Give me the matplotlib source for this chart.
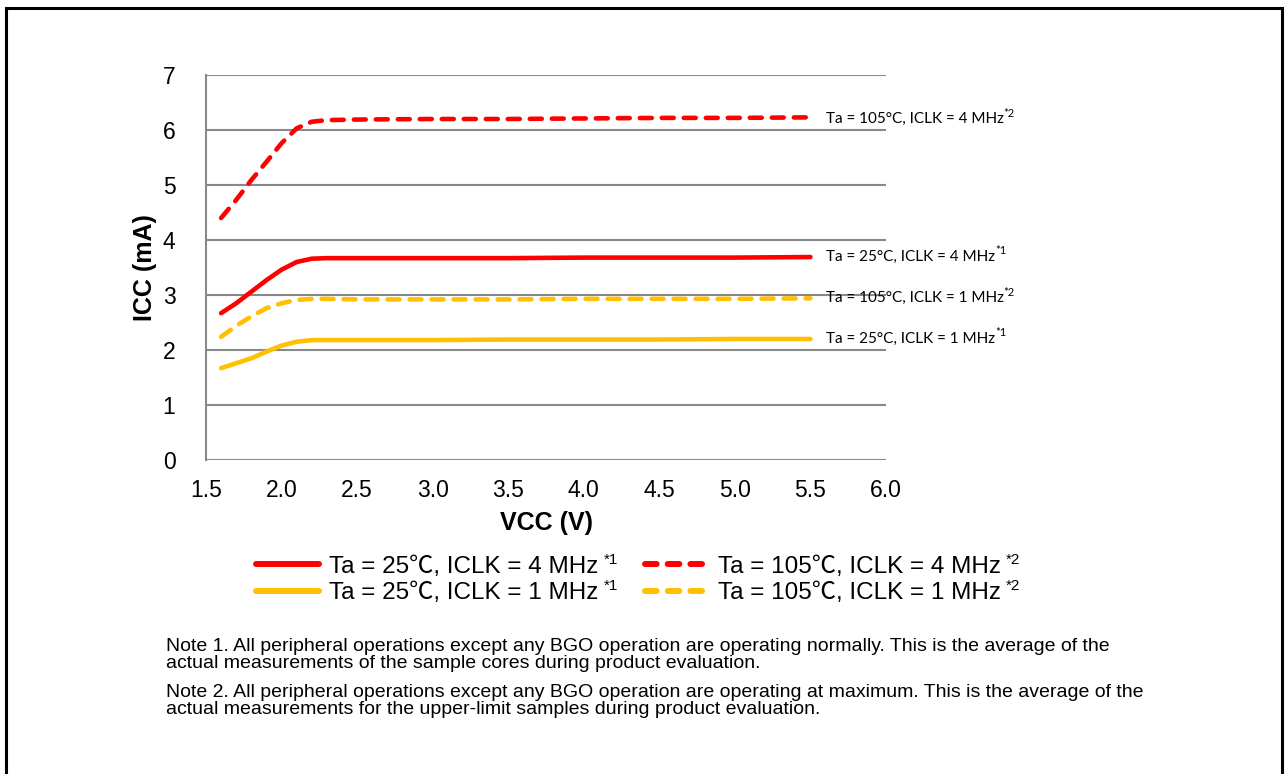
import numpy as np
import matplotlib
matplotlib.use("Agg")
import matplotlib.pyplot as plt
from matplotlib import font_manager
from matplotlib.lines import Line2D
from matplotlib.patches import Rectangle

# supply voltage (V)
vcc = [1.6, 1.7, 1.8, 1.9, 2.0, 2.1, 2.2, 2.3, 2.5, 3.0, 3.5, 4.0, 4.5, 5.0, 5.5]

# ICC (mA)
icc_25_4m = [2.67, 2.85, 3.06, 3.27, 3.46, 3.60, 3.66, 3.67, 3.67, 3.67, 3.67, 3.68, 3.68, 3.68, 3.69]
icc_25_1m = [1.67, 1.76, 1.85, 1.97, 2.08, 2.15, 2.18, 2.18, 2.18, 2.18, 2.19, 2.19, 2.19, 2.2, 2.2]
icc_105_4m = [4.40, 4.73, 5.09, 5.42, 5.76, 6.03, 6.15, 6.18, 6.19, 6.2, 6.2, 6.21, 6.22, 6.22, 6.23]
icc_105_1m = [2.24, 2.44, 2.61, 2.76, 2.85, 2.91, 2.93, 2.93, 2.92, 2.92, 2.92, 2.93, 2.93, 2.93, 2.94]

legend_labels = ["Ta = 25\u2103, ICLK = 4 MHz", "Ta = 25\u2103, ICLK = 1 MHz",
                 "Ta = 105\u2103, ICLK = 4 MHz", "Ta = 105\u2103, ICLK = 1 MHz"]
side_labels = ["Ta = 25\u00b0C, ICLK = 4 MHz", "Ta = 25\u00b0C, ICLK = 1 MHz",
               "Ta = 105\u00b0C, ICLK = 4 MHz", "Ta = 105\u00b0C, ICLK = 1 MHz"]
notes = ["*1", "*1", "*2", "*2"]
xticks = [1.5, 2.0, 2.5, 3.0, 3.5, 4.0, 4.5, 5.0, 5.5, 6.0]
yticks = [0, 1, 2, 3, 4, 5, 6, 7]

note1 = ("Note 1. All peripheral operations except any BGO operation are operating normally. This is the average of the\n"
         "actual measurements of the sample cores during product evaluation.")
note2 = ("Note 2. All peripheral operations except any BGO operation are operating at maximum. This is the average of the\n"
         "actual measurements for the upper-limit samples during product evaluation.")

RED = "#FF0000"
YEL = "#FFC000"
GRID = "#898989"

names = {f.name for f in font_manager.fontManager.ttflist}
side_font = "Lato" if "Lato" in names else "DejaVu Sans"

plt.rcParams["font.family"] = ["Liberation Sans", "DejaVu Sans"]

W, H = 1288, 774
fig = plt.figure(figsize=(W / 100, H / 100), dpi=100)
ax = fig.add_axes([206 / W, 1 - 460 / H, 680 / W, 385 / H])

series = [
    (icc_25_4m, RED, "-"),
    (icc_25_1m, YEL, "-"),
    (icc_105_4m, RED, "--"),
    (icc_105_1m, YEL, "--"),
]
label_dy = [0, 0, -2, 0]  # px nudge of the end labels

lw = 3.3
for i, (vals, col, ls) in enumerate(series):
    line, = ax.plot(vcc, vals, color=col, lw=lw, solid_capstyle="round",
                    dash_capstyle="round", solid_joinstyle="round", zorder=3)
    if ls == "--":
        line.set_dashes([2.6, 2.2])
    t = ax.annotate(side_labels[i], xy=(vcc[-1], vals[-1]), xytext=(11, label_dy[i] * 0.72),
                    textcoords="offset points", fontsize=11, family=[side_font, "DejaVu Sans"],
                    va="center", ha="left", annotation_clip=False)
    ax.annotate(notes[i], xy=(1.0, 0.95), xycoords=t, fontsize=8,
                family=[side_font, "DejaVu Sans"], va="center", ha="left")

ax.set_xlim(1.5, 6.0)
ax.set_ylim(0, 7)
ax.set_xticks(xticks)
ax.set_xticklabels([f"{t:.1f}" for t in xticks])
ax.set_yticks(yticks)
ax.tick_params(length=0, labelsize=16.5, colors="black")
ax.tick_params(axis="x", pad=14)
ax.tick_params(axis="y", pad=22)
ax.grid(axis="y", color=GRID, lw=1.5, zorder=1)
for s in ["top", "right", "bottom"]:
    ax.spines[s].set_visible(False)
ax.spines["left"].set_color(GRID)
ax.spines["left"].set_linewidth(1.5)
ax.set_axisbelow(True)

ax.set_xlabel("VCC (V)", fontsize=18, fontweight="bold")
ax.xaxis.set_label_coords(0.5, -0.163)
ax.xaxis.label.set_va("center")
ax.set_ylabel("ICC (mA)", fontsize=18, fontweight="bold")
ax.yaxis.set_label_coords(-0.09, 0.5)
ax.yaxis.label.set_va("center")

# legend
handles = []
for vals, col, ls in series:
    h = Line2D([], [], color=col, lw=4.3, solid_capstyle="round", dash_capstyle="round")
    if ls == "--":
        h.set_dashes([1.95, 1.85])
    handles.append(h)
leg = fig.legend(handles, legend_labels, ncol=2, loc="center left",
                 bbox_to_anchor=(244 / W, 1 - 580 / H), frameon=False,
                 prop={"family": ["Liberation Sans", "Noto Sans CJK JP", "DejaVu Sans"], "size": 17.5},
                 handlelength=2.6, handletextpad=0.4, columnspacing=1.9, labelspacing=0.2,
                 borderpad=0)

# superscript note marks after the legend entries
fig.canvas.draw()
for txt, n in zip(leg.get_texts(), notes):
    bb = txt.get_window_extent()
    fig.text((bb.x1 + 5) / W, (bb.y0 + 0.82 * bb.height) / H, n, fontsize=11,
             va="center", ha="left")

fig.text(166 / W, 1 - 638 / H, note1, fontsize=14, va="top", ha="left", linespacing=0.98)
fig.text(166 / W, 1 - 684 / H, note2, fontsize=14, va="top", ha="left", linespacing=0.98)

# outer frame
fig.patches.append(Rectangle((6 / W, -0.05), 1276 / W, 1.05 - 8 / H,
                             transform=fig.transFigure, fill=False, ec="black", lw=2.2))

fig.savefig("out.png", dpi=100)
